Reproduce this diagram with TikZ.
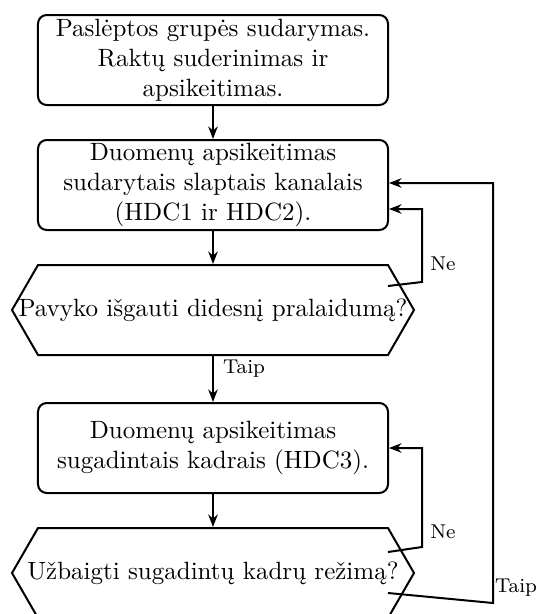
\documentclass[tikz,border=0pt]{standalone}
\usepackage{fontspec}
\usetikzlibrary{calc,arrows.meta}
\begin{document}
\begin{tikzpicture}[x=0.4pt,y=-0.4pt,
  line width=0.8pt,
  arr/.style={-{Stealth[length=5pt,width=3.8pt,inset=1.6pt]}},
  procbox/.style={draw,rounded corners=3.5pt,minimum width=140pt,minimum height=36pt,
    align=center,inner sep=1pt},
  decision/.style={minimum height=36pt,inner xsep=0pt,align=center},
  hexagon/.style={line join=miter},
  lbl/.style={font=\footnotesize,inner sep=1pt}]
\useasboundingbox (0,0) rectangle (536,614);
\clip (0,0) rectangle (536,614);

\node[procbox] (b1) at (213,60) {Paslėptos grupės sudarymas.\\ Raktų suderinimas ir\\ apsikeitimas.};
\node[procbox] (b2) at (213,185) {Duomenų apsikeitimas\\ sudarytais slaptais kanalais\\ (HDC1 ir HDC2).};
\node[decision] (d1) at (213,310) {Pavyko išgauti didesnį pralaidumą?};
\node[procbox] (b3) at (213,448) {Duomenų apsikeitimas\\ sugadintais kadrais (HDC3).};
\node[decision] (d2) at (213,573) {Užbaigti sugadintų kadrų režimą?};

% hexagonal outlines of the two decisions
\foreach \d in {d1,d2}
  \draw[hexagon] ($(\d.center)+(-175,-45)$) -- ($(\d.center)+(175,-45)$)
    -- ($(\d.center)+(201,0)$) -- ($(\d.center)+(175,45)$)
    -- ($(\d.center)+(-175,45)$) -- ($(\d.center)+(-201,0)$) -- cycle;

% main flow
\draw[arr] (b1.south) -- (b2.north);
\draw[arr] (b2.south) -- (d1.north);
\draw[arr] (d1.south) -- (b3.north);
\draw[arr] (b3.south) -- (d2.north);
\node[lbl] (t1) at (244,369) {Taip};

% loop start points
\coordinate (n1) at ($(d1.center)+(175,-24)$);
\coordinate (n2) at ($(d2.center)+(175,-21)$);
\coordinate (t2) at ($(d2.center)+(175,20)$);

% "Ne" loops back
\draw[arr] (n1) -- ++(34,-4) |- ($(b2.east)+(0,24)$);
\node[lbl] (ne1) at (443,264) {Ne};
\draw[arr] (n2) -- ++(34,-5) |- (b3.east);
\node[lbl] (ne2) at (443,532) {Ne};

% "Taip" back to the hidden channels
\draw[arr] (t2) -- ++(105,10) |- ($(b2.east)+(0,-2)$);
\node[lbl] (t3) at (516,588) {Taip};
\end{tikzpicture}
\end{document}
